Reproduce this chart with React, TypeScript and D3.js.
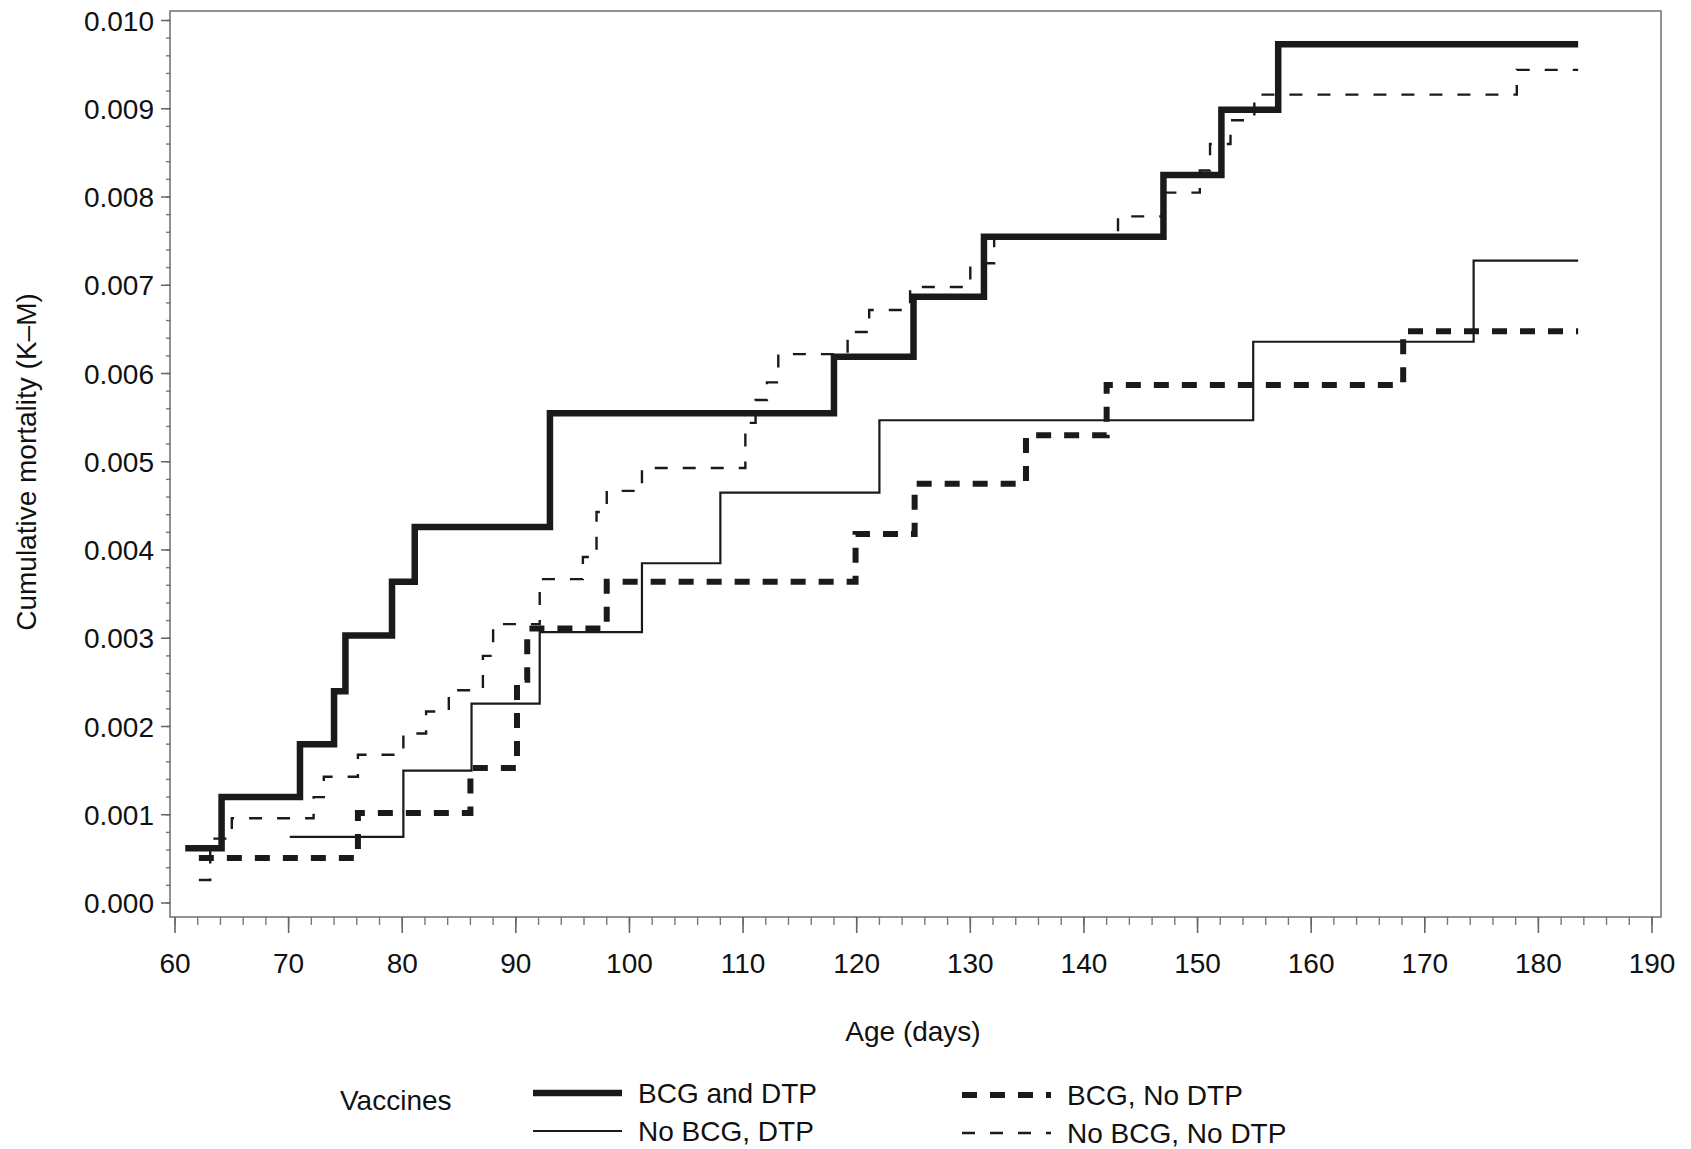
import React from 'react';
import * as d3 from 'd3';

// Kaplan-Meier cumulative mortality, steps (day of step, value after step)
const bcgDtpDays = [60.9, 64.1, 71.0, 74.0, 75.0, 79.1, 81.1, 93.0, 118.0, 125.0, 131.2, 147.0, 152.1, 157.1];
const bcgDtpRisk = [0.00062, 0.0012, 0.0018, 0.0024, 0.00303, 0.00364, 0.00426, 0.00555, 0.00619, 0.00687, 0.00755, 0.00825, 0.00899, 0.00973];

const noBcgDtpDays = [70.1, 80.1, 86.1, 92.1, 101.1, 108.0, 122.0, 154.9, 174.3];
const noBcgDtpRisk = [0.00075, 0.0015, 0.00226, 0.00307, 0.00385, 0.00465, 0.00547, 0.00636, 0.00728];

const bcgNoDtpDays = [62.1, 76.1, 86.0, 90.1, 91.0, 98.0, 119.9, 125.1, 134.9, 142.0, 168.1];
const bcgNoDtpRisk = [0.00051, 0.00102, 0.00153, 0.00253, 0.00311, 0.00364, 0.00418, 0.00475, 0.0053, 0.00587, 0.00648];

const noBcgNoDtpDays = [62.1, 63.1, 65.0, 72.2, 73.1, 76.1, 80.1, 82.1, 84.1, 87.1, 88.0, 92.1, 95.9, 97.1, 98.0, 101.1,
  110.2, 111.1, 112.1, 113.1, 119.2, 121.1, 124.7, 130.0, 132.1, 143.0, 147.1, 150.2, 151.1, 152.9, 155.0, 178.1];
const noBcgNoDtpRisk = [0.00026, 0.00073, 0.00096, 0.0012, 0.00143, 0.00168, 0.00192, 0.00217, 0.00241, 0.0028, 0.00316, 0.00367,
  0.00392, 0.00443, 0.00467, 0.00493, 0.00544, 0.0057, 0.0059, 0.00622, 0.00647, 0.00672, 0.00698, 0.00725, 0.00753, 0.00778,
  0.00805, 0.0083, 0.0086, 0.00887, 0.00916, 0.00944];

const lastDay = 183.5;

const xTicks = [60, 70, 80, 90, 100, 110, 120, 130, 140, 150, 160, 170, 180, 190];
const yTicks = [0, 0.001, 0.002, 0.003, 0.004, 0.005, 0.006, 0.007, 0.008, 0.009, 0.01];

const groupNames = ['BCG and DTP', 'No BCG, DTP', 'BCG, No DTP', 'No BCG, No DTP'];

const W = 1691;
const H = 1149;
const frame = { left: 170, right: 1661, top: 11, bottom: 917 };
const font = '"Liberation Sans", Arial, Helvetica, sans-serif';

const styles = [
  { width: 6.5, dash: '' },
  { width: 2.2, dash: '' },
  { width: 6, dash: '15 13' },
  { width: 2.4, dash: '13 15' },
];

const App: React.FC = () => {
  const x = d3.scaleLinear().domain([60, 190]).range([175, 1652]);
  const y = d3.scaleLinear().domain([0, 0.01]).range([903, 20.5]);

  const series = [
    { days: bcgDtpDays, risk: bcgDtpRisk },
    { days: noBcgDtpDays, risk: noBcgDtpRisk },
    { days: bcgNoDtpDays, risk: bcgNoDtpRisk },
    { days: noBcgNoDtpDays, risk: noBcgNoDtpRisk },
  ];

  const line = d3.line<[number, number]>()
    .x(d => x(d[0]))
    .y(d => y(d[1]))
    .curve(d3.curveStepAfter);

  const paths = series.map(s => {
    const pts: [number, number][] = s.days.map((d, i) => [d, s.risk[i]]);
    pts.push([lastDay, s.risk[s.risk.length - 1]]);
    return line(pts) || '';
  });

  const xMinor = d3.range(60, 191, 2);
  const yMinor = d3.range(0, 0.01001, 0.0002);

  // legend layout
  const legendRows = [
    { lx: 533, ty: 1093 },
    { lx: 533, ty: 1131 },
    { lx: 962, ty: 1095 },
    { lx: 962, ty: 1133 },
  ];

  return (
    <svg width={W} height={H} style={{ position: 'absolute', left: 0, top: 0, background: '#fff' }}
      fontFamily={font}>
      <rect x={0} y={0} width={W} height={H} fill="#fff" />

      {/* frame */}
      <rect x={frame.left} y={frame.top} width={frame.right - frame.left} height={frame.bottom - frame.top}
        fill="none" stroke="#777" strokeWidth={1.6} />

      {/* y axis ticks */}
      {yMinor.map((v, i) => (
        <line key={'ym' + i} x1={frame.left - 4} x2={frame.left + 1} y1={y(v)} y2={y(v)} stroke="#777" strokeWidth={1.4} />
      ))}
      {yTicks.map(v => (
        <g key={'y' + v}>
          <line x1={frame.left - 9} x2={frame.left} y1={y(v)} y2={y(v)} stroke="#666" strokeWidth={1.5} />
          <text x={frame.left - 16} y={y(v)} dy="0.36em" textAnchor="end" fontSize={28} fill="#111">
            {d3.format('.3f')(v)}
          </text>
        </g>
      ))}

      {/* x axis ticks */}
      {xMinor.map(d => (
        <line key={'xm' + d} x1={x(d)} x2={x(d)} y1={frame.bottom} y2={frame.bottom + 8} stroke="#777" strokeWidth={1.4} />
      ))}
      {xTicks.map(d => (
        <g key={'x' + d}>
          <line x1={x(d)} x2={x(d)} y1={frame.bottom} y2={frame.bottom + 16} stroke="#666" strokeWidth={1.6} />
          <text x={x(d)} y={973} textAnchor="middle" fontSize={28} fill="#111">{d}</text>
        </g>
      ))}

      {/* axis titles */}
      <text x={913} y={1041} textAnchor="middle" fontSize={28} fill="#111">Age (days)</text>
      <text transform="translate(36,462) rotate(-90)" textAnchor="middle" fontSize={28} fill="#111">
        Cumulative mortality (K–M)
      </text>

      {/* curves */}
      {paths.map((p, i) => (
        <path key={'c' + i} d={p} fill="none" stroke="#1a1a1a" strokeWidth={styles[i].width}
          strokeDasharray={styles[i].dash || undefined} strokeLinejoin="miter" strokeLinecap="butt" />
      ))}

      {/* legend */}
      <text x={340} y={1110} fontSize={28} fill="#111">Vaccines</text>
      {groupNames.map((name, i) => (
        <g key={'lg' + i}>
          <line x1={legendRows[i].lx} x2={legendRows[i].lx + 89} y1={legendRows[i].ty} y2={legendRows[i].ty}
            stroke="#1a1a1a" strokeWidth={styles[i].width} strokeDasharray={styles[i].dash || undefined} />
          <text x={legendRows[i].lx + 105} y={legendRows[i].ty} dy="0.36em" fontSize={28} fill="#111">{name}</text>
        </g>
      ))}
    </svg>
  );
};

export default App;
